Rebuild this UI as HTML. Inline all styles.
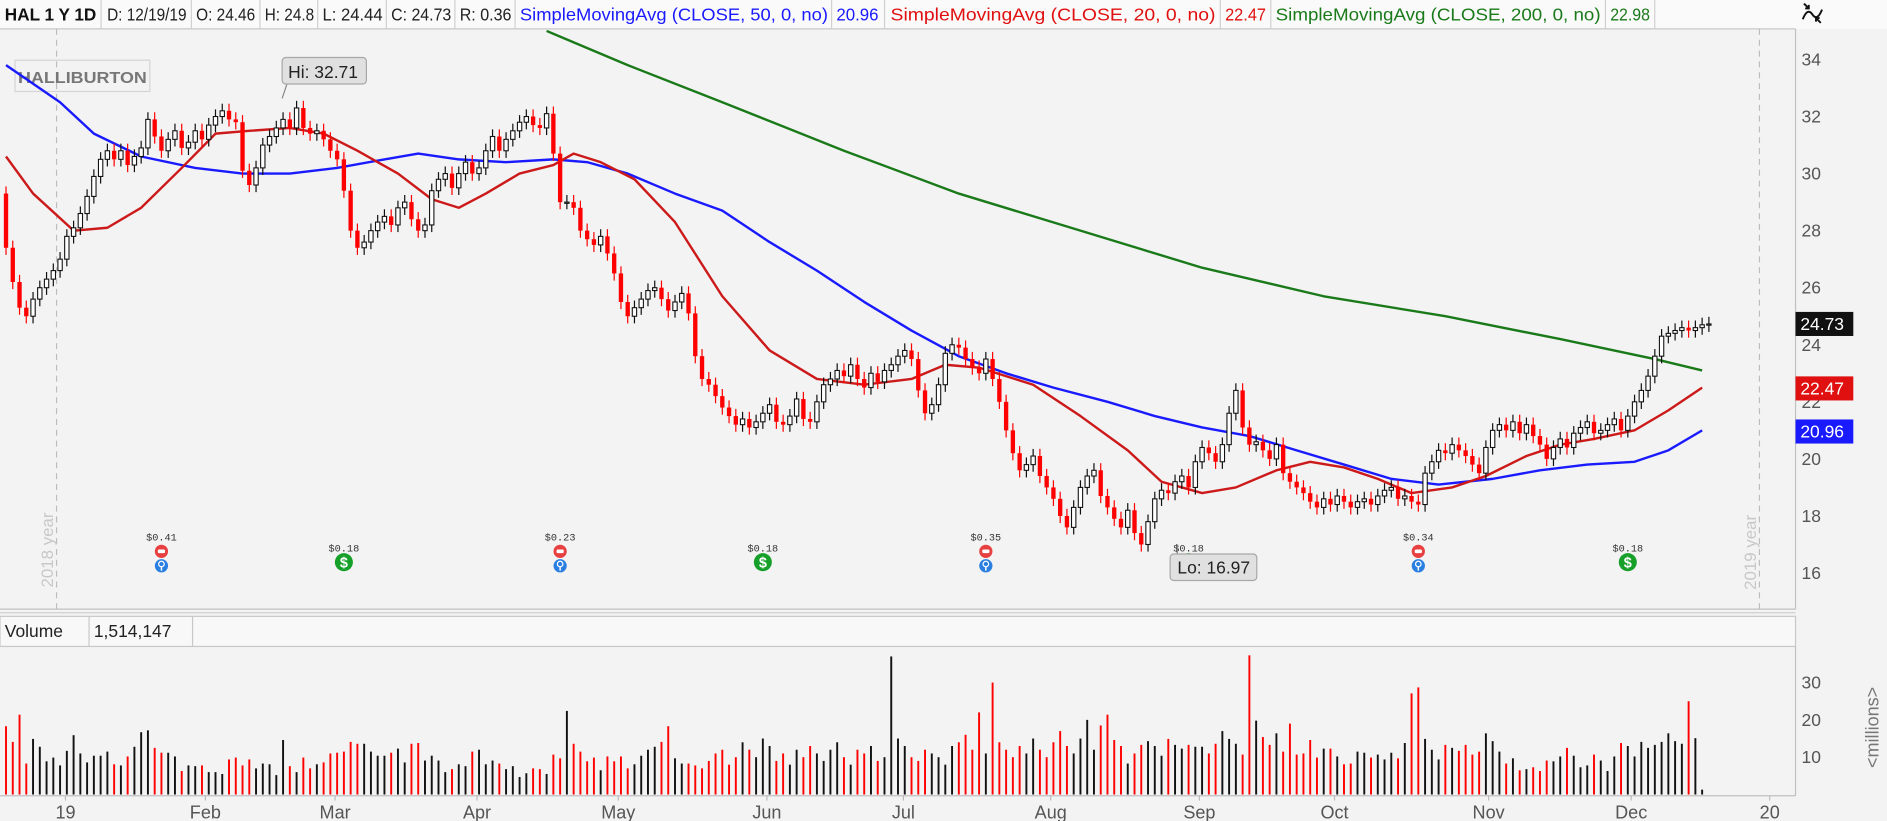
<!DOCTYPE html>
<html><head><meta charset="utf-8">
<style>
html,body{margin:0;padding:0;background:#f3f3f3;overflow:hidden}
svg{display:block;font-family:"Liberation Sans",sans-serif}
</style></head>
<body>
<svg id="chart" width="1887" height="821" viewBox="0 0 1568 682" preserveAspectRatio="none" xmlns="http://www.w3.org/2000/svg">
  <rect x="0" y="0" width="1568" height="682" fill="#f3f3f3"/>
  <g>
    <rect x="0" y="0" width="1568" height="24" fill="#fafafa"/>
    <line x1="0" y1="24" x2="1492" y2="24" stroke="#c8c8c8"/>
    <text x="4" y="17" font-size="14.5" font-weight="bold" fill="#111" textLength="76" lengthAdjust="spacingAndGlyphs">HAL 1 Y 1D</text>
    <text x="89" y="17" font-size="14.5" fill="#222" textLength="66" lengthAdjust="spacingAndGlyphs">D: 12/19/19</text>
    <text x="163" y="17" font-size="14.5" fill="#222" textLength="49" lengthAdjust="spacingAndGlyphs">O: 24.46</text>
    <text x="220" y="17" font-size="14.5" fill="#222" textLength="41" lengthAdjust="spacingAndGlyphs">H: 24.8</text>
    <text x="268" y="17" font-size="14.5" fill="#222" textLength="50" lengthAdjust="spacingAndGlyphs">L: 24.44</text>
    <text x="325" y="17" font-size="14.5" fill="#222" textLength="50" lengthAdjust="spacingAndGlyphs">C: 24.73</text>
    <text x="382" y="17" font-size="14.5" fill="#222" textLength="43" lengthAdjust="spacingAndGlyphs">R: 0.36</text>
    <text x="432" y="17" font-size="14.5" fill="#1a1aff" textLength="256" lengthAdjust="spacingAndGlyphs">SimpleMovingAvg (CLOSE, 50, 0, no)</text>
    <text x="695" y="17" font-size="14.5" fill="#1a1aff" textLength="35" lengthAdjust="spacingAndGlyphs">20.96</text>
    <text x="740" y="17" font-size="14.5" fill="#e01010" textLength="270" lengthAdjust="spacingAndGlyphs">SimpleMovingAvg (CLOSE, 20, 0, no)</text>
    <text x="1018" y="17" font-size="14.5" fill="#e01010" textLength="34" lengthAdjust="spacingAndGlyphs">22.47</text>
    <text x="1060" y="17" font-size="14.5" fill="#1a7a1a" textLength="270" lengthAdjust="spacingAndGlyphs">SimpleMovingAvg (CLOSE, 200, 0, no)</text>
    <text x="1338" y="17" font-size="14.5" fill="#1a7a1a" textLength="33" lengthAdjust="spacingAndGlyphs">22.98</text>
    <g stroke="#d0d0d0">
      <line x1="84" y1="0" x2="84" y2="24"/><line x1="159" y1="0" x2="159" y2="24"/><line x1="216" y1="0" x2="216" y2="24"/>
      <line x1="264" y1="0" x2="264" y2="24"/><line x1="321" y1="0" x2="321" y2="24"/><line x1="378" y1="0" x2="378" y2="24"/>
      <line x1="428" y1="0" x2="428" y2="24"/><line x1="691" y1="0" x2="691" y2="24"/><line x1="735" y1="0" x2="735" y2="24"/>
      <line x1="1014" y1="0" x2="1014" y2="24"/><line x1="1056" y1="0" x2="1056" y2="24"/><line x1="1334" y1="0" x2="1334" y2="24"/>
      <line x1="1375" y1="0" x2="1375" y2="24"/>
    </g>
    <g stroke="#111" stroke-width="1.6" fill="none">
      <path d="M1498 16 q4 -10 8 -4 q4 6 8 -4"/>
      <path d="M1499 3 l4 4 m0 -3 v3 h-3"/>
      <path d="M1513 19 l-4 -4 m0 3 v-3 h3"/>
    </g>
  </g>
  <g>
    <line x1="1492" y1="24" x2="1492" y2="506" stroke="#c0c0c0"/>
    <line x1="0" y1="506" x2="1492" y2="506" stroke="#c0c0c0"/>
    <line x1="47" y1="24" x2="47" y2="506" stroke="#bdbdbd" stroke-dasharray="5,4"/>
    <line x1="1462" y1="24" x2="1462" y2="506" stroke="#bdbdbd" stroke-dasharray="5,4"/>
    <text transform="translate(44,488) rotate(-90)" font-size="14" fill="#c8c8c8">2018 year</text>
    <text transform="translate(1459,490) rotate(-90)" font-size="14" fill="#c8c8c8">2019 year</text>
    <g>
      <rect x="12.5" y="50" width="112" height="26" fill="none" stroke="#d4d4d4"/>
      <text x="15" y="69" font-size="13" font-weight="bold" fill="#777" textLength="107" lengthAdjust="spacingAndGlyphs">HALLIBURTON</text>
    </g>
  </g>
  <g id="priceAxis"></g>
  <g id="maLayer"></g>
  <g id="candleLayer"></g>
  <g id="eventLayer"></g>
  <g id="calloutLayer"></g>
  <g id="tagLayer"></g>
  <g>
    <line x1="0" y1="509" x2="1492" y2="509" stroke="#cfcfcf"/>
    <rect x="0" y="512" width="1492" height="25" fill="#f8f8f8" stroke="#c8c8c8"/>
    <text x="4" y="529" font-size="14.5" fill="#222">Volume</text>
    <line x1="74" y1="512" x2="74" y2="537" stroke="#c8c8c8"/>
    <text x="78" y="529" font-size="14.5" fill="#222">1,514,147</text>
    <line x1="160" y1="512" x2="160" y2="537" stroke="#c8c8c8"/>
    <line x1="1492" y1="537" x2="1492" y2="661" stroke="#c0c0c0"/>
    <line x1="0" y1="661" x2="1492" y2="661" stroke="#c0c0c0"/>
    <text transform="translate(1561,638) rotate(-90)" font-size="15" fill="#777">&lt;millions&gt;</text>
  </g>
  <g id="volAxis"></g>
  <g id="volLayer"></g>
  <g id="dateAxis"></g>
</svg>
<script>
const closes = [
27.4,26.2,25.3,25.0,25.6,26.0,26.3,26.6,
27.0,27.8,28.1,28.6,29.2,29.9,30.5,30.8,30.5,30.8,30.3,30.6,30.9,31.9,31.3,30.8,31.2,31.5,30.9,31.1,31.5,
31.2,31.7,32.0,32.2,31.9,31.8,30.1,29.6,30.2,31.0,31.3,31.6,31.9,31.6,32.3,31.6,31.4,31.5,31.2,
30.8,30.5,29.4,28.0,27.4,27.6,28.0,28.3,28.5,28.2,28.8,29.0,28.4,28.0,28.2,29.4,29.8,30.0,29.5,30.0,30.4,
30.0,30.2,30.8,31.3,30.8,31.2,31.5,31.8,32.0,31.7,31.6,32.1,30.7,29.0,29.0,28.8,28.0,27.7,27.5,27.8,27.2,
26.5,25.5,25.0,25.3,25.6,25.9,26.0,25.6,25.2,25.5,25.8,25.1,23.6,22.8,22.6,22.2,21.8,21.5,21.2,21.4,21.1,21.3,
21.6,21.9,21.3,21.2,21.5,22.1,21.4,21.3,22.0,22.6,22.8,23.1,22.9,23.3,22.8,22.5,23.0,22.7,23.1,23.3,
23.6,23.8,23.5,22.4,21.6,21.9,22.6,23.7,24.0,23.9,23.5,23.2,23.0,23.5,22.8,22.0,21.0,20.2,19.6,19.8,20.1,19.4,
19.0,18.6,18.0,17.6,18.3,19.0,19.4,19.6,18.7,18.3,17.9,17.6,18.2,17.4,17.0,17.8,18.6,18.9,18.8,19.2,19.4,19.0,
19.9,20.4,20.2,19.9,20.5,21.6,22.4,21.1,20.5,20.6,20.3,20.0,20.5,19.5,19.2,19.0,18.8,18.5,18.3,18.6,
18.4,18.7,18.5,18.3,18.5,18.6,18.4,18.7,18.9,19.0,18.6,18.7,18.5,18.4,19.5,19.9,20.3,20.2,20.5,20.3,20.1,19.8,19.5,
20.4,21.0,21.2,21.0,21.3,20.9,21.2,20.8,20.5,20.0,20.4,20.7,20.4,20.9,21.1,21.3,20.9,21.0,21.2,21.4,21.0,
21.5,22.0,22.4,22.9,23.6,24.3,24.4,24.5,24.6,24.5,24.6,24.7,24.73];
const firstOpen = 29.3;
const volumes = [
18.3,14.1,21.4,8.3,14.9,12.8,8.9,9.9,7.8,11.7,15.9,11,8.6,10.4,10.4,11.5,8.1,7.8,10.2,12.8,16.7,17.2,12.5,11.2,11.2,10.2,6.3,7.8,7.6,7.8,6,6,5.5,9.4,9.9,7.8,9.4,7,8.3,8.1,5.2,14.6,7.6,6,9.9,7,8.1,8.6,11,11.2,11.5,14.1,13.6,13.6,11.5,10.4,10.4,11.2,12.3,8.6,13.6,13.8,9.1,10.4,9.1,6,6.8,8.1,7.6,11.5,12,8.1,9.1,8.3,6.8,7.6,4.7,5.7,7,6.8,5.5,10.7,9.7,22.4,13.6,11.5,8.9,9.9,6.5,10.2,8.9,10.2,7,8.1,10.4,12,12.8,14.1,18.3,9.7,
8.3,8.3,7.8,7,9,11,12,8,10,14,12,10,15,13,9,11,8,12,10,13,11,9,12,14,10,8,12,11,13,9,10,37,15,13,10,9,12,11,10,8,13,14,16,12,22,11,30,14,12,10,13,11,15,12,10,14,17,13,11,15,20,12,
18.5,21.4,14.6,13,8.3,11,13.3,14.3,13,10.4,14.9,13.3,12.3,13.3,12.8,12.8,11,13.6,17,14.9,13.6,10.7,37.3,19.8,15.4,13.3,16.4,11.5,19,10.7,11,14.6,9.9,12.3,12.3,10.2,8.1,8.3,11.5,11.2,9.9,10.7,9.4,11.2,9.7,13.8,27.1,28.7,14.9,12,9.4,13.3,12.5,11.7,13.3,10.7,11.5,16.4,14.3,11.5,8.3,9.7,6.5,6.8,7.3,6.3,9.1,8.9,10.2,12.5,10.4,7.3,7.8,10.7,9.1,6.3,10.2,13.8,13,10.2,14.1,12.5,13.3,14.1,16.4,14.3,13.6,25,15.1,1.3];
const sma50Day = [0,8,13,20,28,35,42,49,56,61,67,74,81,86,92,99,106,113,120,127,134,141,148,155,163,170,177,184,191,198,205,212,220,227,234,241,246,251];
const sma50Val = [33.8,32.5,31.4,30.6,30.2,30.0,30.0,30.2,30.5,30.7,30.5,30.4,30.5,30.4,30.0,29.3,28.7,27.6,26.6,25.5,24.5,23.6,23.0,22.5,22.0,21.5,21.1,20.8,20.3,19.8,19.3,19.1,19.3,19.6,19.8,19.9,20.3,21.0];
const sma20Day = [0,4,10,15,20,26,31,36,42,47,52,58,63,67,71,76,81,84,88,93,99,106,113,120,127,134,139,144,152,159,166,171,177,182,188,193,198,203,208,214,219,225,230,235,241,246,251];
const sma20Val = [30.6,29.3,28.0,28.1,28.8,30.2,31.4,31.5,31.6,31.4,30.8,30.0,29.1,28.8,29.3,30.0,30.3,30.7,30.4,29.8,28.3,25.7,23.8,22.8,22.6,22.8,23.3,23.2,22.6,21.5,20.3,19.2,18.8,19.0,19.6,19.9,19.7,19.3,18.8,19.0,19.4,20.1,20.5,20.7,21.0,21.7,22.5];
const sma200Day = [80,82,92,106,124,141,159,177,195,213,230,244,251];
const sma200Val = [35.0,34.8,33.8,32.5,30.8,29.3,28.0,26.7,25.7,25.0,24.2,23.5,23.1];
const priceTicks = [16,18,20,22,24,26,28,30,32,34];
const volTicks = [10,20,30];
const monthLabels = ["19","Feb","Mar","Apr","May","Jun","Jul","Aug","Sep","Oct","Nov","Dec","20"];
const monthDay = [8.8,29.5,48.7,69.7,90.6,112.6,132.8,154.6,176.6,196.6,219.4,240.5,261];
const eventDay = [23,50,82,112,145,175,209,240];
const eventAmt = ["$0.41","$0.18","$0.23","$0.18","$0.35","$0.18","$0.34","$0.18"];
const eventType = ["earnings","dividend","earnings","dividend","earnings","dividend","earnings","dividend"];
const hiLabel = "Hi: 32.71";
const loLabel = "Lo: 16.97";
const tagValues = [24.73, 22.47, 20.96];
const tagColors = ["#111", "#e01010", "#1a1aff"];
const tagNames = ["last-price-tag", "sma20-price-tag", "sma50-price-tag"];

const NS = "http://www.w3.org/2000/svg";
const n = closes.length;
const X0 = 5, X1 = 1420;
function xDay(i){ return X0 + i * (X1 - X0) / (n - 1); }
function yP(p){ return 476 - (p - 16) * 23.7; }
function yV(v){ return 660 - v * 3.1; }
function mk(tag, attrs, parent){
  const e = document.createElementNS(NS, tag);
  for (const k in attrs) e.setAttribute(k, attrs[k]);
  parent.appendChild(e);
  return e;
}

const pa = document.getElementById('priceAxis');
priceTicks.forEach(t => {
  const tx = mk('text', {x:1497, y:yP(t)+5, 'font-size':14.5, fill:'#555'}, pa);
  tx.textContent = t;
  
  
});

const va = document.getElementById('volAxis');
volTicks.forEach(t => {
  const tx = mk('text', {x:1497, y:yV(t)+5, 'font-size':14.5, fill:'#555'}, va);
  tx.textContent = t;
  
  
});

const da = document.getElementById('dateAxis');
monthLabels.forEach((m, k) => {
  const cx = xDay(monthDay[k]);
  const tk = mk('line', {x1:cx, y1:661, x2:cx, y2:665, stroke:'#bbb'}, da);
  
  
  const tx = mk('text', {x:cx, y:680, 'font-size':15, fill:'#555', 'text-anchor':'middle'}, da);
  tx.textContent = m;
  
  
});

const ml = document.getElementById('maLayer');
function maPath(days, vals, color, name){
  let d = '';
  days.forEach((dd, k) => { d += (k ? 'L' : 'M') + xDay(dd).toFixed(1) + ' ' + yP(vals[k]).toFixed(1); });
  const p = mk('path', {d:d, fill:'none', stroke:color, 'stroke-width':2, 'stroke-linejoin':'round'}, ml);
  
  
}
const clip = mk('clipPath', {id:'pclip'}, ml);
mk('rect', {x:0, y:25, width:1492, height:481}, clip);
ml.setAttribute('clip-path', 'url(#pclip)');
maPath(sma200Day, sma200Val, '#1a7a1a', 'sma200-line');
maPath(sma50Day, sma50Val, '#1a1aff', 'sma50-line');
maPath(sma20Day, sma20Val, '#cc1a1a', 'sma20-line');

const cl = document.getElementById('candleLayer');
const bw = 3.6;
for (let i = 0; i < n; i++) {
  const o = i ? closes[i-1] : firstOpen;
  const c = closes[i];
  const down = c < o;
  const hi = Math.max(o, c) + 0.25, lo = Math.min(o, c) - 0.25;
  const cx = xDay(i);
  const col = down ? '#ff0000' : '#111';
  const w = mk('line', {x1:cx, y1:yP(hi), x2:cx, y2:yP(lo), stroke:col, 'stroke-width':1}, cl);
  
  
  const top = yP(Math.max(o, c)), h = Math.max(1, yP(Math.min(o, c)) - top);
  const b = mk('rect', {x:cx - bw/2, y:top, width:bw, height:h, fill: down ? '#ff0000' : '#fff', stroke: down ? 'none' : '#111', 'stroke-width':0.9}, cl);
  
  
}

const vl = document.getElementById('volLayer');
for (let i = 0; i < n; i++) {
  const v = volumes[i] || 0;
  const o = i ? closes[i-1] : firstOpen;
  const col = closes[i] < o ? '#ff0000' : '#111';
  const cx = xDay(i);
  const r = mk('rect', {x:cx - 0.8, y:yV(v), width:1.6, height:660 - yV(v), fill:col}, vl);
  
  
}

const el = document.getElementById('eventLayer');
eventDay.forEach((d, k) => {
  const cx = xDay(d);
  const earn = eventType[k] === 'earnings';
  const lab = mk('text', {x:cx, y: earn ? 449 : 458, 'font-size':8.5, 'font-family':'Liberation Mono, monospace', fill:'#333', 'text-anchor':'middle'}, el);
  lab.textContent = eventAmt[k];
  
  
  if (earn) {
    const c1 = mk('circle', {cx:cx, cy:458, r:5.5, fill:'#e84040'}, el);
    
    
    mk('rect', {x:cx-3, y:456.5, width:6, height:3, fill:'#fff', rx:1}, el);
    const c2 = mk('circle', {cx:cx, cy:470, r:5.5, fill:'#2a7fe0'}, el);
    
    
    mk('circle', {cx:cx, cy:468.5, r:2.3, fill:'none', stroke:'#fff', 'stroke-width':1}, el);
    mk('line', {x1:cx, y1:471, x2:cx, y2:474, stroke:'#fff', 'stroke-width':1.2}, el);
  } else {
    const c = mk('circle', {cx:cx, cy:467, r:7.5, fill:'#16a02a'}, el);
    
    
    const s = mk('text', {x:cx, y:471.5, 'font-size':12, 'font-weight':'bold', fill:'#fff', 'text-anchor':'middle'}, el);
    s.textContent = '$';
    
    
  }
});

const co = document.getElementById('calloutLayer');
let iMax = 0, iMin = 0;
closes.forEach((c, i) => { if (c > closes[iMax]) iMax = i; if (c < closes[iMin]) iMin = i; });
(function(){
  const cx = xDay(iMax) - 12, top = yP(closes[iMax] + 0.25);
  const g = mk('g', {}, co);
  
  
  mk('line', {x1:cx+4, y1:top - 14, x2:cx, y2:top-2, stroke:'#888'}, g);
  mk('rect', {x:cx, y:top - 36, width:70, height:22, rx:3, fill:'#e0e0e0', stroke:'#a8a8a8'}, g);
  const t = mk('text', {x:cx + 5, y:top - 19, 'font-size':14.5, fill:'#222'}, g);
  t.textContent = hiLabel;
})();
(function(){
  const cx = xDay(iMin) + 26, bot = yP(closes[iMin] - 0.25);
  const g = mk('g', {}, co);
  
  
  mk('line', {x1:cx+4, y1:bot - 6, x2:cx+4, y2:bot+2, stroke:'#888'}, g);
  mk('rect', {x:cx - 2, y:bot + 2, width:72, height:22, rx:3, fill:'#e0e0e0', stroke:'#a8a8a8'}, g);
  const t = mk('text', {x:cx + 4, y:bot + 18, 'font-size':14.5, fill:'#222'}, g);
  t.textContent = loLabel;
})();

const tl = document.getElementById('tagLayer');
tagValues.forEach((v, k) => {
  const y = yP(v);
  const r = mk('rect', {x:1492, y:y - 10, width:48, height:20, fill:tagColors[k]}, tl);
  
  
  const t = mk('text', {x:1496, y:y + 5, 'font-size':14.5, fill:'#fff'}, tl);
  t.textContent = v.toFixed(2);
  
  
});
</script>
</body></html>
